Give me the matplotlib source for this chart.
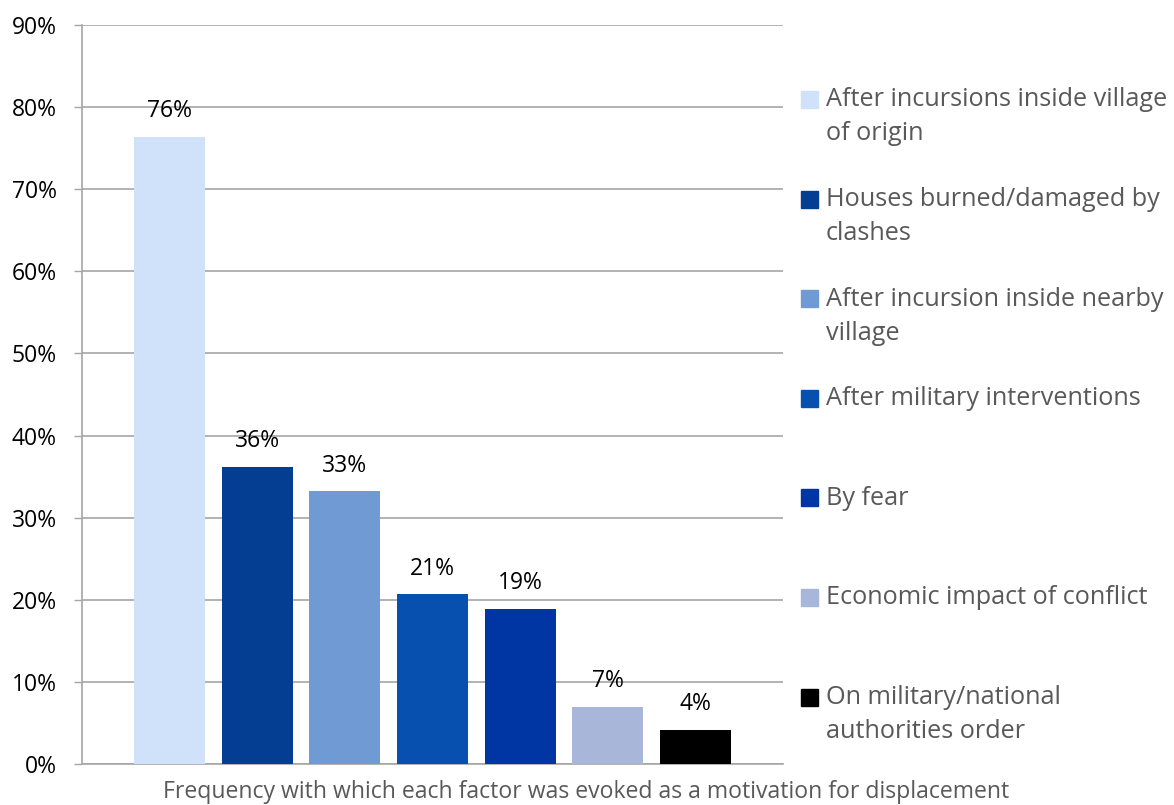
import matplotlib.pyplot as plt
from matplotlib.patches import Rectangle
import numpy as np

plt.rcParams['font.family'] = ['Open Sans', 'DejaVu Sans']

factors = [
    'After incursions inside village\nof origin',
    'Houses burned/damaged by\nclashes',
    'After incursion inside nearby\nvillage',
    'After military interventions',
    'By fear',
    'Economic impact of conflict',
    'On military/national\nauthorities order',
]
shares = [76.4, 36.2, 33.2, 20.7, 18.9, 7.0, 4.2]
colors = ['#CFE2F9', '#033E93', '#6F9AD4', '#0850B0', '#0036A3', '#A8B6DA', '#000000']
y_ticks = [0, 10, 20, 30, 40, 50, 60, 70, 80, 90]
caption = 'Frequency with which each factor was evoked as a motivation for displacement'

grid_color = '#A6A6A6'
text_gray = '#595959'

W, H = 1174, 805
fig = plt.figure(figsize=(W / 100, H / 100), dpi=100)
ax = fig.add_axes([82 / W, 41 / H, 701 / W, 739 / H])

x = np.arange(len(shares))
ax.bar(x, shares, width=0.81, color=colors, zorder=3)

for xi, v in zip(x, shares):
    ax.annotate(f'{v:.0f}%', (xi, v), xytext=(0, 14), textcoords='offset points',
                ha='center', va='baseline', fontsize=16.5, color='black')

ax.set_xlim(-1, 7)
ax.set_ylim(0, 90)
ax.set_yticks(y_ticks)
ax.set_yticklabels([f'{t}%' for t in y_ticks])
ax.set_xticks([])
ax.tick_params(axis='y', length=6, width=1, color=grid_color, pad=12,
               labelsize=16.5, labelcolor='black')
ax.yaxis.grid(True, color=grid_color, linewidth=1.2, zorder=0)
for side in ['top', 'right']:
    ax.spines[side].set_visible(False)
for side in ['left', 'bottom']:
    ax.spines[side].set_color(grid_color)
    ax.spines[side].set_linewidth(1.2)

# axis caption under the whole chart, flush with the bottom edge
fig.text(586 / W, 1 / H, caption, fontsize=16.6, color=text_gray,
         ha='center', va='bottom')

# legend drawn by hand so the swatch sits on the first line of each entry
entry_y = 100
for label, c in zip(factors, colors):
    yf = 1 - entry_y / H
    fig.patches.append(Rectangle((801 / W, yf - 8.5 / H), 17 / W, 17 / H,
                                 transform=fig.transFigure, color=c))
    lines = label.split('\n')
    for k, line in enumerate(lines):
        fig.text(826 / W, 1 - (entry_y + 34 * k) / H, line, fontsize=18.2,
                 color=text_gray, va='center', ha='left')
    entry_y += 99.5

fig.savefig('out.png', dpi=100)
